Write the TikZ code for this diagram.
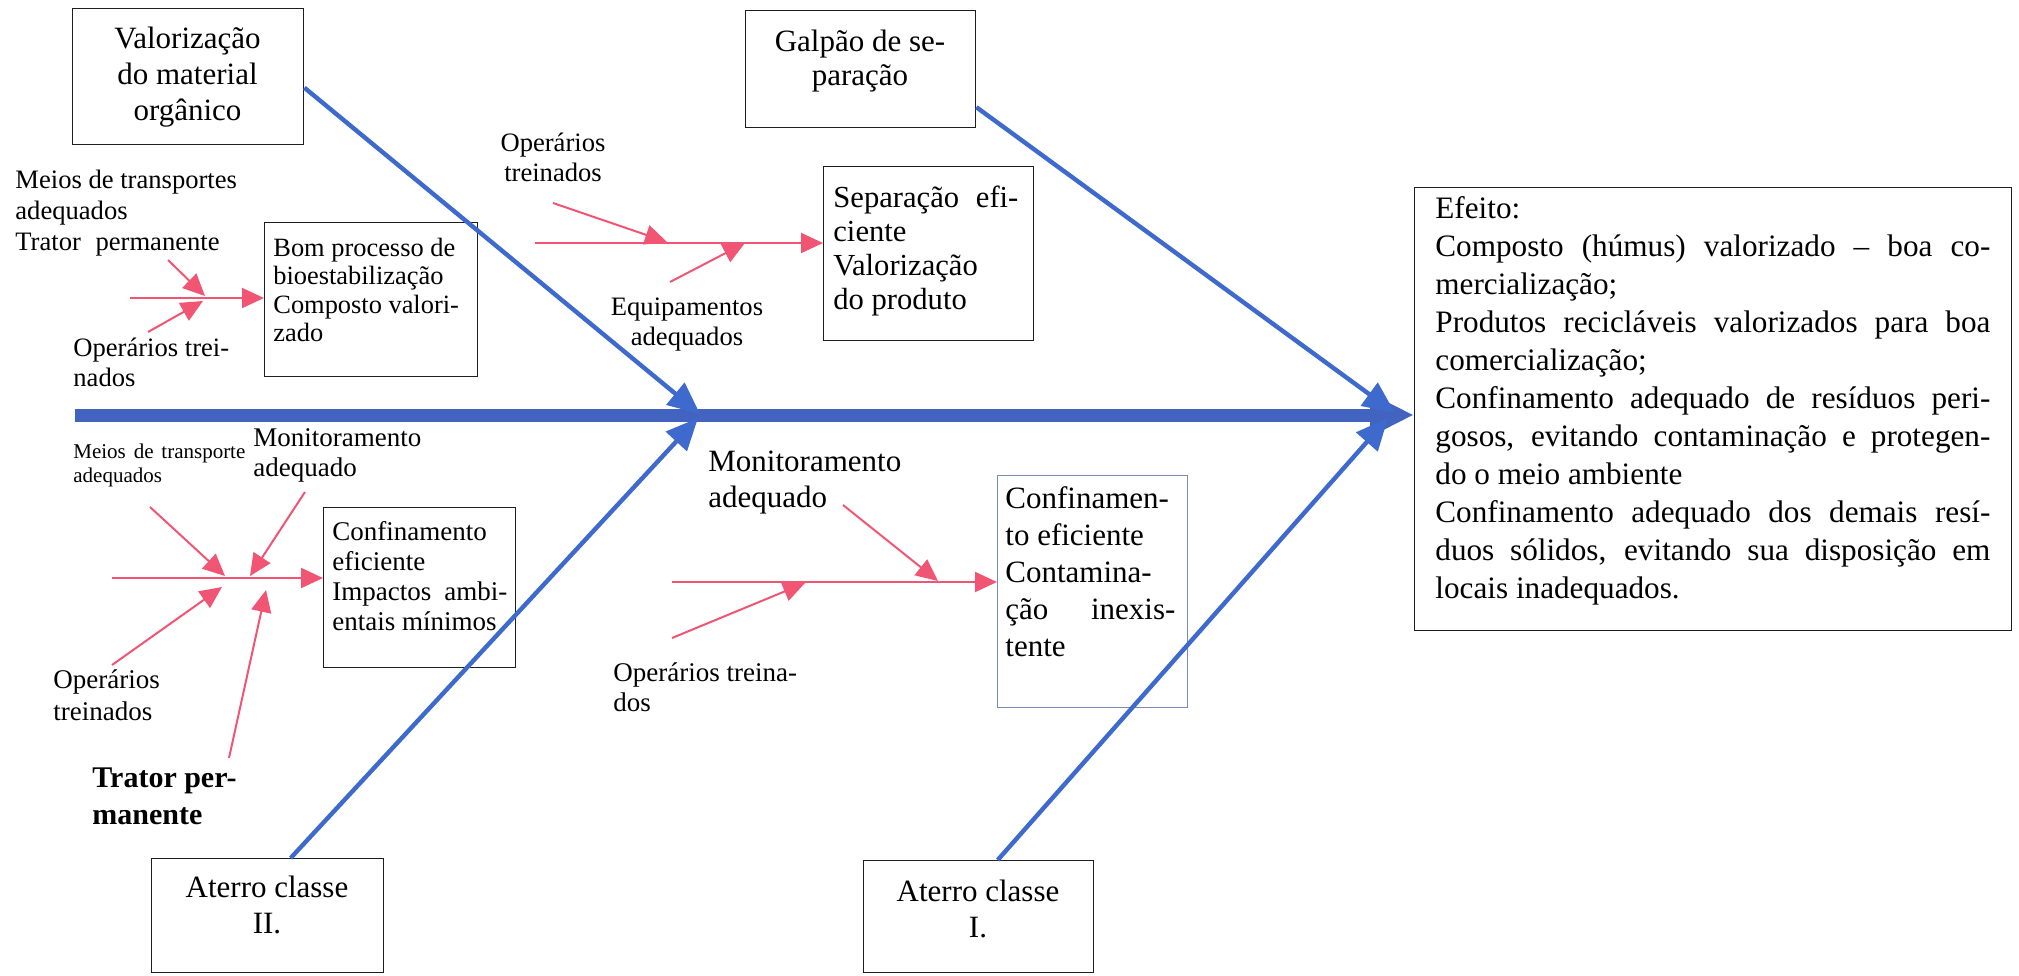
\documentclass[tikz,border=0pt]{standalone}
\usepackage{fontspec}
\setmainfont{Liberation Serif}
\usetikzlibrary{arrows.meta}
\definecolor{bonecol}{RGB}{62,105,205}
\definecolor{spinecol}{RGB}{66,100,192}
\definecolor{causecol}{RGB}{240,85,115}
\definecolor{framecol}{RGB}{30,30,30}
\definecolor{paleframe}{RGB}{120,140,175}
% a justified line of fixed width
\newcommand{\jl}[1]{\makebox[\linewidth][s]{#1}}
\begin{document}
\begin{tikzpicture}[x=0.5pt,y=-0.5pt,
  box/.style={draw=framecol, line width=0.7pt, inner sep=0pt, anchor=north west},
  txt/.style={inner sep=0pt, anchor=base west},
  ctxt/.style={inner sep=0pt, anchor=base},
  spine/.style={draw=spinecol, line width=6.5pt, -{Triangle[length=22pt,width=20pt]}},
  bone/.style={draw=bonecol, line width=2.2pt, -{Triangle[length=16pt,width=14pt]}},
  cause/.style={draw=causecol, line width=1pt, -{Triangle[length=11pt,width=10pt]}},
]
\useasboundingbox (0,0) rectangle (2019,975);

% ---------- boxes ----------
\node[box, minimum width=115.5pt, minimum height=68pt]  (vmo) at (72,8) {};
\node[box, minimum width=106.5pt, minimum height=77pt]  (bom) at (264,222) {};
\node[box, minimum width=115pt,   minimum height=58.5pt] (gal) at (745,10) {};
\node[box, minimum width=105pt,   minimum height=87pt]  (sep) at (823,166) {};
\node[box, minimum width=298.5pt, minimum height=221.5pt] (eff) at (1414,187) {};
\node[box, minimum width=96pt,    minimum height=80pt]  (cf1) at (323,507) {};
\node[box, draw=paleframe, line width=0.5pt, minimum width=95pt, minimum height=116pt] (cf2) at (997,475) {};
\node[box, minimum width=116pt,   minimum height=57pt]  (at2) at (151,858) {};
\node[box, minimum width=115pt,   minimum height=56pt]  (at1) at (863,860) {};

% ---------- texts ----------
\node[ctxt] (vmoT) at (187.5,48) {\parbox[t]{115pt}{\centering\fontsize{15.5pt}{18.2pt}\selectfont Valorização\\do material\\orgânico}};
\node[txt] (meiosA) at (15,188) {\parbox[t]{130pt}{\fontsize{13.3pt}{15.5pt}\selectfont Meios de transportes\\adequados\\Trator\hspace{0.55em}permanente}};
\node[txt] (opA) at (73,356) {\parbox[t]{80pt}{\fontsize{13.3pt}{15pt}\selectfont Operários trei-\\nados}};
\node[txt] (bomT) at (273,256) {\parbox[t]{102pt}{\fontsize{13.2pt}{14.25pt}\selectfont Bom processo de\\bioestabilização\\Composto valori-\\zado}};
\node[ctxt] (opB) at (553,151) {\parbox[t]{70pt}{\centering\fontsize{13.3pt}{15pt}\selectfont Operários\\treinados}};
\node[ctxt] (eqB) at (687,315) {\parbox[t]{90pt}{\centering\fontsize{13.3pt}{15pt}\selectfont Equipamentos\\adequados}};
\node[ctxt] (galT) at (860,51) {\parbox[t]{110pt}{\centering\fontsize{15.5pt}{17pt}\selectfont Galpão de se-\\paração}};
\node[txt] (sepT) at (833,207) {\parbox[t]{92.5pt}{\fontsize{15.3pt}{17pt}\selectfont \jl{Separação efi-}\\ciente\\Valorização\\do produto}};
\node[txt] (effT) at (1435,218) {\parbox[t]{277.5pt}{\fontsize{15.6pt}{19pt}\selectfont Efeito:\\
\jl{Composto (húmus) valorizado – boa co-}\\
mercialização;\\
\jl{Produtos recicláveis valorizados para boa}\\
comercialização;\\
\jl{Confinamento adequado de resíduos peri-}\\
\jl{gosos, evitando contaminação e protegen-}\\
do o meio ambiente\\
\jl{Confinamento adequado dos demais resí-}\\
\jl{duos sólidos, evitando sua disposição em}\\
locais inadequados.}};
\node[txt] (meiosC) at (73,458) {\parbox[t]{86pt}{\fontsize{10.5pt}{12pt}\selectfont \jl{Meios de transporte}\\adequados}};
\node[txt] (monC) at (253,446) {\parbox[t]{90pt}{\fontsize{13.5pt}{15pt}\selectfont Monitoramento\\adequado}};
\node[txt] (cf1T) at (332,540) {\parbox[t]{87.5pt}{\fontsize{13.5pt}{15pt}\selectfont Confinamento\\eficiente\\\jl{Impactos ambi-}\\entais mínimos}};
\node[txt] (opC) at (53,688) {\parbox[t]{60pt}{\fontsize{13.5pt}{16pt}\selectfont Operários\\treinados}};
\node[txt] (trC) at (92,787) {\parbox[t]{90pt}{\fontsize{15pt}{18.5pt}\selectfont\bfseries Trator per-\\manente}};
\node[ctxt] (at2T) at (267,897) {\parbox[t]{110pt}{\centering\fontsize{15.5pt}{18pt}\selectfont Aterro classe\\II.}};
\node[txt] (monD) at (708,471) {\parbox[t]{110pt}{\fontsize{15.5pt}{18pt}\selectfont Monitoramento\\adequado}};
\node[txt] (opD) at (613,681) {\parbox[t]{100pt}{\fontsize{13.5pt}{15pt}\selectfont Operários treina-\\dos}};
\node[txt] (cf2T) at (1005,508) {\parbox[t]{85pt}{\fontsize{15.5pt}{18.5pt}\selectfont Confinamen-\\to eficiente\\Contamina-\\\jl{ção inexis-}\\tente}};
\node[ctxt] (at1T) at (978,901) {\parbox[t]{110pt}{\centering\fontsize{15.5pt}{18pt}\selectfont Aterro classe\\I.}};

% ---------- spine and main bones ----------
\coordinate (tail) at (75,415);
\coordinate (jL1) at (700,414);
\coordinate (jL2) at (698,418);
\coordinate (jR1) at (1395,413);
\coordinate (jR2) at (1388,418);
\draw[spine] (tail) -- (tail -| eff.west);
\draw[bone] ([yshift=-5.5pt]vmo.east) -- (jL1);
\draw[bone] ([xshift=11.5pt]at2.north) -- (jL2);
\draw[bone] ([yshift=-19pt]gal.east) -- (jR1);
\draw[bone] ([xshift=9.5pt]at1.north) -- (jR2);

% ---------- causes: bioestabilização ----------
\coordinate (g1s) at (130,298);
\coordinate (g1a) at (168,260);  \coordinate (g1ta) at (205,296);
\coordinate (g1b) at (148,332);  \coordinate (g1tb) at (203,301);
\draw[cause] (g1s) -- (g1s -| bom.west);
\draw[cause] (g1a) -- (g1ta);
\draw[cause] (g1b) -- (g1tb);

% ---------- causes: separação ----------
\coordinate (g2s) at (535,243);
\coordinate (g2a) at (553,203);  \coordinate (g2ta) at (667,242);
\coordinate (g2b) at (670,282);  \coordinate (g2tb) at (745,243);
\draw[cause] (g2s) -- (g2s -| sep.west);
\draw[cause] (g2a) -- (g2ta);
\draw[cause] (g2b) -- (g2tb);

% ---------- causes: aterro classe II ----------
\coordinate (g3s) at (112,578);
\coordinate (g3a) at (150,507);  \coordinate (g3ta) at (225,576);
\coordinate (g3b) at (305,492);  \coordinate (g3tb) at (250,576);
\coordinate (g3c) at (112,665);  \coordinate (g3tc) at (222,587);
\coordinate (g3d) at (229,758);  \coordinate (g3td) at (266,590);
\draw[cause] (g3s) -- (g3s -| cf1.west);
\draw[cause] (g3a) -- (g3ta);
\draw[cause] (g3b) -- (g3tb);
\draw[cause] (g3c) -- (g3tc);
\draw[cause] (g3d) -- (g3td);

% ---------- causes: aterro classe I ----------
\coordinate (g4s) at (672,582);
\coordinate (g4a) at (843,505);  \coordinate (g4ta) at (938,581);
\coordinate (g4b) at (672,638);  \coordinate (g4tb) at (805,583);
\draw[cause] (g4s) -- (g4s -| cf2.west);
\draw[cause] (g4a) -- (g4ta);
\draw[cause] (g4b) -- (g4tb);
\end{tikzpicture}
\end{document}
